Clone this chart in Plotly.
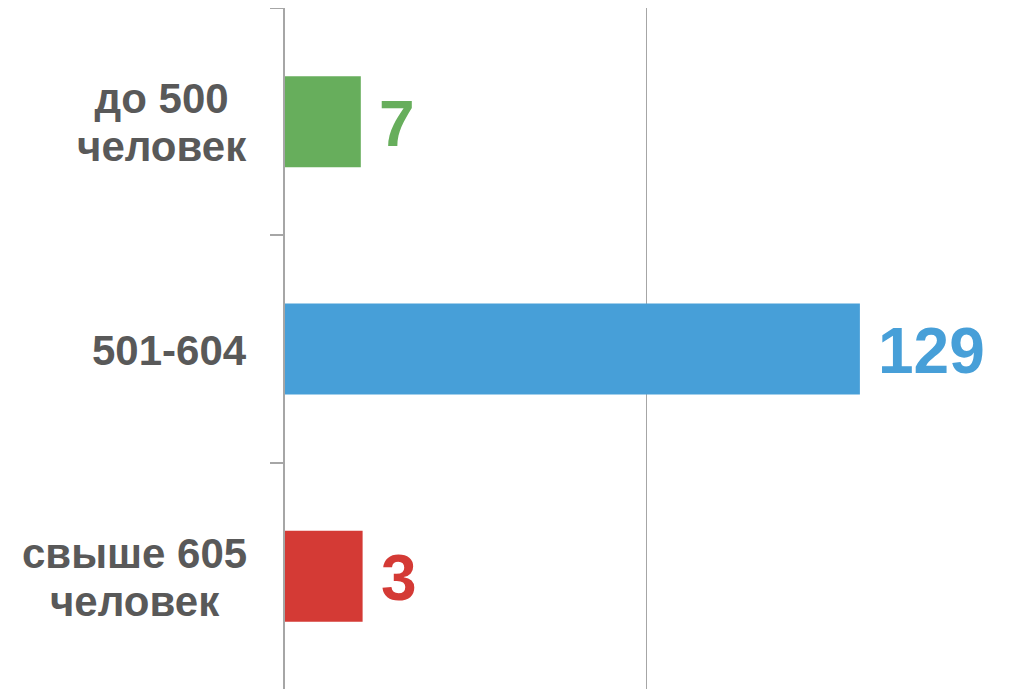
import plotly.graph_objects as go

categories = ["до 500<br>человек", "501-604", "свыше 605<br>человек"]
values = [7, 129, 3]
# displayed bar lengths (axis units, axis 0..160)
bar_lengths = [16.8, 127.4, 17.2]
colors = ["#67AE5C", "#479FD8", "#D43A35"]

FONT = "Liberation Sans, Arial, sans-serif"
LABEL_SIZE = 42
LINE_BASE = 37  # controls line spacing of the two-line labels

fig = go.Figure(
    go.Bar(
        y=categories,
        x=bar_lengths,
        orientation="h",
        marker=dict(color=colors, line=dict(width=0)),
        width=0.4,
        hoverinfo="skip",
    )
)

annotations = []
for cat, v, L, c in zip(categories, values, bar_lengths, colors):
    annotations.append(dict(
        x=L, y=cat, xref="x", yref="y", text=str(v),
        xanchor="left", yanchor="middle", xshift=16, yshift=-2,
        showarrow=False,
        font=dict(family=FONT, size=64, color=c, weight="bold"),
    ))
    lines = cat.split("<br>")
    txt = "<br>".join(f'<span style="font-size:{LABEL_SIZE}px">{ln}</span>' for ln in lines)
    annotations.append(dict(
        x=0, y=cat, xref="paper", yref="y", text=txt,
        xanchor="right", yanchor="middle", xshift=-36, yshift=-1, align="center",
        showarrow=False,
        font=dict(family=FONT, size=LINE_BASE, color="#595959", weight="bold"),
    ))

fig.update_layout(
    width=1018, height=689,
    margin=dict(l=277, r=19, t=0, b=7),
    paper_bgcolor="white", plot_bgcolor="white",
    showlegend=False,
    bargap=0.6,
    annotations=annotations,
    xaxis=dict(range=[0, 160], dtick=80, showgrid=True, gridcolor="#A6A6A6",
               gridwidth=1, zeroline=False, showline=False,
               showticklabels=False, ticks=""),
    yaxis=dict(autorange="reversed", showticklabels=False, ticks="outside",
               tickson="boundaries", ticklen=13, tickcolor="#A6A6A6",
               tickwidth=1.5, showline=True, linecolor="#A6A6A6",
               linewidth=1.5, showgrid=False, zeroline=False),
)

fig.write_html("out.html")
